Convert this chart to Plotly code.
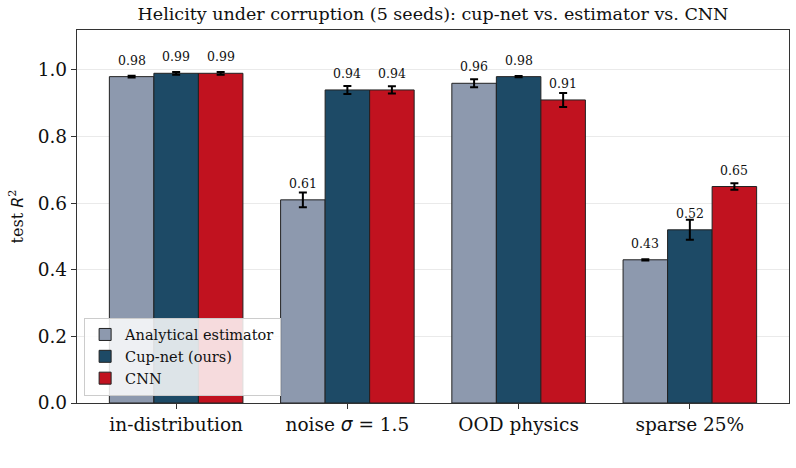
import plotly.graph_objects as go

categories = ["in-distribution", "noise <span style='font-family:DejaVu Sans'><i>σ</i></span> = 1.5", "OOD physics", "sparse 25%"]
series_names = ["Analytical estimator", "Cup-net (ours)", "CNN"]
means = {
    "Analytical estimator": [0.98, 0.61, 0.96, 0.43],
    "Cup-net (ours)": [0.99, 0.94, 0.98, 0.52],
    "CNN": [0.99, 0.94, 0.91, 0.65],
}
errors = {
    "Analytical estimator": [0.003, 0.022, 0.012, 0.002],
    "Cup-net (ours)": [0.004, 0.012, 0.002, 0.03],
    "CNN": [0.004, 0.011, 0.021, 0.01],
}
colors = {
    "Analytical estimator": "#8D99AE",
    "Cup-net (ours)": "#1D4A66",
    "CNN": "#C1121F",
}

bar_w = 0.26
FONT = "DejaVu Serif"

fig = go.Figure()
annotations = []
for i, name in enumerate(series_names):
    off = (i - 1) * bar_w
    xs = [k + off for k in range(len(categories))]
    fig.add_trace(go.Bar(
        x=xs, y=means[name], width=bar_w, name=name,
        marker=dict(color=colors[name], line=dict(color="#222222", width=1)),
        error_y=dict(type="data", array=errors[name], color="black", thickness=2, width=4),
    ))
    for x, m in zip(xs, means[name]):
        annotations.append(dict(
            x=x, y=m + 0.03, xref="x", yref="y", text=f"{m:.2f}", showarrow=False,
            yanchor="bottom", font=dict(family=FONT, size=12.5, color="#111"), yshift=-3,
        ))

fig.update_layout(
    width=796, height=468,
    margin=dict(l=77, r=7, t=30, b=65),
    paper_bgcolor="white", plot_bgcolor="white",
    barmode="overlay",
    font=dict(family=FONT, color="#111"),
    title=dict(text="Helicity under corruption (5 seeds): cup-net vs. estimator vs. CNN",
               x=0.5, xref="paper", xanchor="center", y=1 - 14 / 468, yanchor="middle",
               font=dict(family=FONT, size=17.5, color="#111")),
    legend=dict(x=0.01, y=0.02, xanchor="left", yanchor="bottom",
                bgcolor="rgba(255,255,255,0.85)", bordercolor="#cccccc", borderwidth=1,
                font=dict(family=FONT, size=14.5, color="#111"), tracegroupgap=2,
                itemwidth=30),
    annotations=annotations,
    showlegend=True,
)
fig.update_xaxes(
    range=[-0.579, 3.579], tickvals=list(range(len(categories))), ticktext=categories,
    showline=True, mirror=True, linecolor="#333", linewidth=1.3,
    ticks="outside", ticklen=5, tickcolor="#333", showgrid=False, zeroline=False,
    tickfont=dict(family=FONT, size=18.5, color="#111"),
)
fig.update_yaxes(
    range=[0, 1.12], tickvals=[0, 0.2, 0.4, 0.6, 0.8, 1.0],
    ticktext=["0.0", "0.2", "0.4", "0.6", "0.8", "1.0"],
    showline=True, mirror=True, linecolor="#333", linewidth=1.3,
    ticks="outside", ticklen=5, tickcolor="#333",
    showgrid=True, gridcolor="rgba(170,170,170,0.25)", gridwidth=1, zeroline=False,
    layer="above traces",
    tickfont=dict(family=FONT, size=18.5, color="#111"),
    title=dict(text="test <span style='font-family:DejaVu Sans'><i>R</i></span><sup>2</sup>",
               font=dict(family=FONT, size=16, color="#111"), standoff=10),
)

fig.write_html("out.html")
